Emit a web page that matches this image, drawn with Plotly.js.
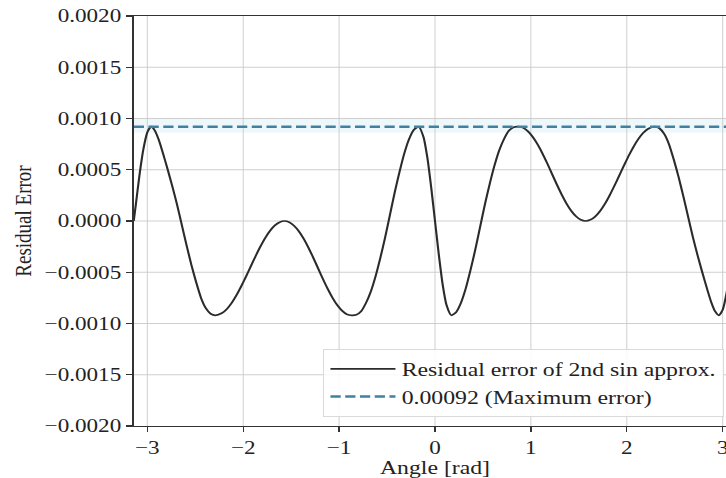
<!DOCTYPE html>
<html>
<head>
<meta charset="utf-8">
<script src="https://cdn.plot.ly/plotly-3.0.1.min.js"></script>
<style>
  html, body { margin: 0; padding: 0; background: #fff; overflow: hidden; width: 726px; height: 478px; }
  #wrap { transform: scaleX(1.25); transform-origin: 0 0; width: 592px; height: 478px; }
</style>
</head>
<body>
<div id="wrap"><div id="chart"></div></div>
<script>
// Angle samples [rad]
const angles = [
  -3.1416, -3.12, -3.08, -3.04, -3.00, -2.96, -2.92, -2.88, -2.84, -2.79,
  -2.74, -2.69, -2.64, -2.59, -2.54, -2.49, -2.44, -2.39, -2.34, -2.29,
  -2.22, -2.17, -2.12, -2.07, -2.02, -1.97, -1.92, -1.87, -1.82, -1.77,
  -1.72, -1.67, -1.62, -1.57, -1.52, -1.47, -1.42, -1.37, -1.32, -1.27,
  -1.22, -1.17, -1.12, -1.07, -1.02, -0.97, -0.92, -0.87, -0.82, -0.77,
  -0.72, -0.67, -0.62, -0.57, -0.52, -0.47, -0.42, -0.37, -0.32, -0.27,
  -0.22, -0.17, -0.12, -0.08, -0.04, 0.00,
  0.04, 0.08, 0.12, 0.17, 0.22, 0.27, 0.32, 0.37, 0.42, 0.47,
  0.52, 0.57, 0.62, 0.67, 0.72, 0.77, 0.82, 0.87, 0.92, 0.97,
  1.02, 1.07, 1.12, 1.17, 1.22, 1.27, 1.32, 1.37, 1.42, 1.47,
  1.52, 1.57, 1.62, 1.67, 1.72, 1.77, 1.82, 1.87, 1.92, 1.97,
  2.02, 2.07, 2.12, 2.17, 2.22, 2.29, 2.34, 2.39, 2.44, 2.49,
  2.54, 2.59, 2.64, 2.69, 2.74, 2.79, 2.84, 2.88, 2.92, 2.96,
  3.00, 3.04, 3.08, 3.12, 3.1416
];
// Residual error values
const residual = [
  0, 0.00016, 0.00046, 0.000705, 0.000865, 0.00092, 0.00088, 0.00079, 0.00067, 0.00051,
  0.00034, 0.00016, -0.00004, -0.00024, -0.00043, -0.0006, -0.00075, -0.00085, -0.000905, -0.00092,
  -0.000898, -0.000858, -0.000799, -0.000724, -0.000636, -0.00054, -0.00044, -0.000341, -0.000248, -0.000164,
  -0.000095, -0.000043, -0.000011, 0, -0.000012, -0.000046, -0.0001, -0.000173, -0.00026, -0.000357,
  -0.00046, -0.000563, -0.00066, -0.000747, -0.00082, -0.000874, -0.000909, -0.00092, -0.000915, -0.00088,
  -0.0008, -0.00069, -0.00054, -0.00036, -0.00016, 0.00006, 0.00028, 0.00048, 0.00066, 0.0008,
  0.00089, 0.00092, 0.00082, 0.00062, 0.00033, 0,
  -0.00033, -0.00062, -0.00082, -0.00092, -0.00089, -0.0008, -0.00066, -0.00048, -0.00028, -0.00006,
  0.00016, 0.00036, 0.00054, 0.00069, 0.0008, 0.00088, 0.000915, 0.00092, 0.000909, 0.000874,
  0.00082, 0.000747, 0.00066, 0.000563, 0.00046, 0.000357, 0.00026, 0.000173, 0.0001, 0.000046,
  0.000012, 0, 0.000011, 0.000043, 0.000095, 0.000164, 0.000248, 0.000341, 0.00044, 0.00054,
  0.000636, 0.000724, 0.000799, 0.000858, 0.000898, 0.00092, 0.000905, 0.00085, 0.00075, 0.0006,
  0.00043, 0.00024, 0.00004, -0.00016, -0.00034, -0.00051, -0.00067, -0.00079, -0.00088, -0.00092,
  -0.000865, -0.000705, -0.00046, -0.00016, 0
];
const maxError = 0.00092;
const maxErrorBand = [0.00086, 0.00100];
const xLimits = [-Math.PI, Math.PI];
const yLimits = [-0.002, 0.002];
const xTickVals = [-3, -2, -1, 0, 1, 2, 3];
const yTickVals = [-0.002, -0.0015, -0.001, -0.0005, 0, 0.0005, 0.001, 0.0015, 0.002];
const seriesNames = ['Residual error of 2nd sin approx.', '0.00092 (Maximum error)'];

const font = 'Liberation Serif, Times New Roman, serif';

const traces = [
  {
    x: angles, y: residual, type: 'scatter', mode: 'lines',
    name: seriesNames[0], legendgroup: 'a',
    line: { color: '#2b2b2b', width: 1.7, shape: 'spline', smoothing: 0.6 }
  },
  {
    x: xLimits, y: [maxError, maxError], type: 'scatter', mode: 'lines',
    name: seriesNames[1], legendgroup: 'b',
    line: { color: '#41809f', width: 2.6, dash: '8.2px,3.6px' }
  }
];

const axisCommon = {
  showgrid: true, gridcolor: '#cacaca', gridwidth: 0.8,
  showline: true, linecolor: '#333', linewidth: 1.3, mirror: true,
  ticks: 'outside', ticklen: 5, tickwidth: 1.1, tickcolor: '#333',
  zeroline: false,
  tickfont: { family: font, size: 18.5, color: '#222' }
};

const layout = {
  width: 592, height: 478,
  margin: { l: 107, r: 3, t: 16, b: 52 },
  paper_bgcolor: '#fff', plot_bgcolor: '#fff',
  font: { family: font, color: '#222' },
  showlegend: true,
  xaxis: Object.assign({}, axisCommon, {
    range: xLimits, tickvals: xTickVals, tickformat: 'd',
    title: { text: 'Angle [rad]', font: { family: font, size: 19, color: '#222' }, standoff: 6 }
  }),
  yaxis: Object.assign({}, axisCommon, {
    range: yLimits, tickvals: yTickVals, tickformat: '.4f',
    title: { text: 'Residual Error', font: { family: font, size: 19, color: '#222' }, standoff: 5 }
  }),
  legend: {
    x: 0.98, xanchor: 'right', y: 0.022, yanchor: 'bottom',
    bgcolor: 'rgba(255,255,255,0.85)', bordercolor: '#dadada', borderwidth: 1,
    font: { family: font, size: 19, color: '#222' },
    traceorder: 'grouped', tracegroupgap: 0, itemwidth: 52
  },
  shapes: [
    {
      type: 'rect', xref: 'paper', x0: 0, x1: 1, yref: 'y',
      y0: maxErrorBand[0], y1: maxErrorBand[1],
      fillcolor: '#eef8fc', line: { width: 0 }, layer: 'below'
    }
  ]
};

Plotly.newPlot('chart', traces, layout, { displayModeBar: false, staticPlot: true });
</script>
</body>
</html>
